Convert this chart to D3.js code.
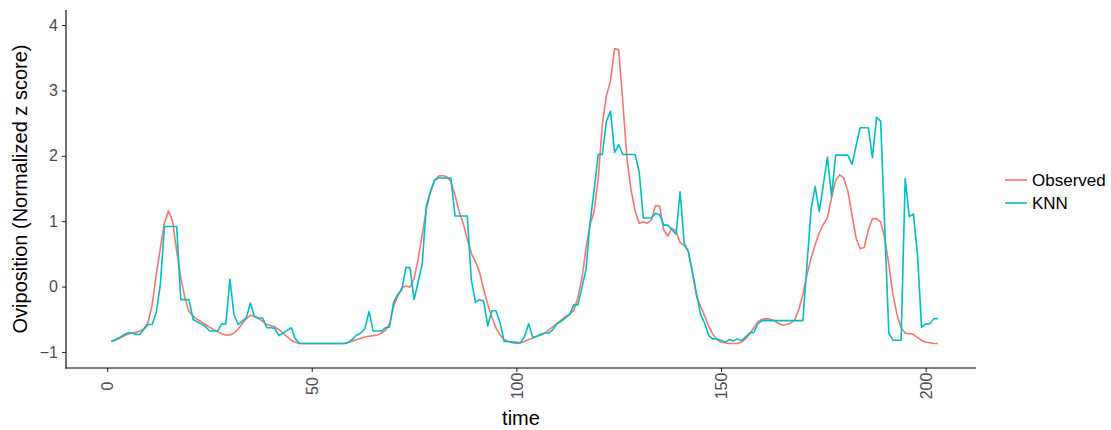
<!DOCTYPE html>
<html>
<head>
<meta charset="utf-8">
<script src="https://cdn.jsdelivr.net/npm/d3@7"></script>
<style>
  html, body { margin: 0; padding: 0; background: #fff; }
  svg { display: block; }
  text { font-family: "Liberation Sans", Arial, sans-serif; }
</style>
</head>
<body>
<svg id="chart" width="1111" height="430"></svg>
<script>
// ---- data ----
const seriesNames = ["Observed", "KNN"];
const seriesColors = ["#F8766D", "#00BFC4"];
const xTicks = [0, 50, 100, 150, 200];
const yTicks = [-1, 0, 1, 2, 3, 4];
const yTickLabels = ["\u22121", "0", "1", "2", "3", "4"];

const observed = [
 -0.84,-0.82,-0.79,-0.76,-0.73,-0.71,-0.70,-0.68,-0.64,-0.55,
 -0.28,0.18,0.59,0.97,1.16,1.00,0.54,0.13,-0.17,-0.38,
 -0.45,-0.50,-0.54,-0.58,-0.62,-0.66,-0.69,-0.72,-0.74,-0.74,
 -0.71,-0.65,-0.57,-0.49,-0.44,-0.45,-0.49,-0.53,-0.58,-0.60,
 -0.62,-0.66,-0.71,-0.77,-0.82,-0.85,-0.87,-0.87,-0.87,-0.87,
 -0.87,-0.87,-0.87,-0.87,-0.87,-0.87,-0.87,-0.87,-0.85,-0.83,
 -0.81,-0.79,-0.77,-0.76,-0.75,-0.74,-0.71,-0.67,-0.57,-0.30,
 -0.15,-0.02,0.01,-0.01,0.12,0.42,0.80,1.18,1.45,1.62,
 1.69,1.70,1.68,1.60,1.40,1.15,0.97,0.72,0.51,0.38,
 0.22,-0.04,-0.27,-0.47,-0.63,-0.74,-0.81,-0.84,-0.86,-0.87,
 -0.86,-0.84,-0.81,-0.79,-0.76,-0.74,-0.71,-0.66,-0.61,-0.56,
 -0.51,-0.46,-0.42,-0.37,-0.17,0.12,0.58,0.95,1.15,1.65,
 2.48,2.92,3.15,3.64,3.62,2.82,1.97,1.48,1.16,0.97,
 0.99,0.97,1.02,1.24,1.23,0.87,0.77,0.89,0.85,0.67,
 0.63,0.54,0.23,-0.15,-0.30,-0.45,-0.61,-0.73,-0.81,-0.85,
 -0.86,-0.87,-0.87,-0.87,-0.85,-0.80,-0.72,-0.63,-0.54,-0.50,
 -0.49,-0.50,-0.52,-0.56,-0.59,-0.58,-0.56,-0.51,-0.35,-0.12,
 0.18,0.44,0.64,0.82,0.95,1.05,1.36,1.62,1.71,1.66,
 1.46,1.10,0.74,0.58,0.60,0.87,1.04,1.04,0.99,0.74,
 0.34,-0.12,-0.43,-0.63,-0.71,-0.72,-0.73,-0.78,-0.82,-0.85,
 -0.86,-0.87,-0.87
];

const knn = [
 -0.84,-0.81,-0.78,-0.74,-0.71,-0.71,-0.73,-0.73,-0.65,-0.58,
 -0.58,-0.40,0.03,0.92,0.92,0.92,0.92,-0.20,-0.20,-0.20,
 -0.50,-0.54,-0.57,-0.61,-0.68,-0.68,-0.68,-0.57,-0.57,0.11,
 -0.43,-0.58,-0.53,-0.48,-0.25,-0.46,-0.48,-0.48,-0.63,-0.63,
 -0.64,-0.75,-0.71,-0.67,-0.63,-0.80,-0.87,-0.87,-0.87,-0.87,
 -0.87,-0.87,-0.87,-0.87,-0.87,-0.87,-0.87,-0.87,-0.85,-0.80,
 -0.74,-0.71,-0.64,-0.38,-0.68,-0.68,-0.68,-0.63,-0.62,-0.24,
 -0.12,-0.05,0.29,0.29,-0.20,0.07,0.35,1.23,1.45,1.63,
 1.66,1.66,1.66,1.66,1.08,1.08,1.08,1.08,0.10,-0.24,
 -0.20,-0.22,-0.60,-0.37,-0.37,-0.55,-0.84,-0.84,-0.85,-0.85,
 -0.86,-0.76,-0.57,-0.78,-0.76,-0.73,-0.71,-0.71,-0.65,-0.56,
 -0.53,-0.48,-0.43,-0.28,-0.28,-0.02,0.26,0.97,1.48,2.02,
 2.02,2.53,2.68,2.05,2.17,2.02,2.02,2.02,2.02,1.76,
 1.05,1.05,1.05,1.12,1.10,0.94,0.94,0.87,0.80,1.45,
 0.66,0.54,0.22,-0.10,-0.43,-0.56,-0.75,-0.80,-0.80,-0.82,
 -0.85,-0.81,-0.83,-0.80,-0.83,-0.77,-0.71,-0.70,-0.57,-0.52,
 -0.52,-0.52,-0.52,-0.52,-0.52,-0.52,-0.52,-0.52,-0.52,-0.52,
 0.33,1.18,1.53,1.15,1.56,1.98,1.38,2.01,2.01,2.01,
 2.01,1.87,2.15,2.43,2.43,2.43,1.97,2.59,2.53,0.90,
 -0.71,-0.82,-0.82,-0.82,1.65,1.07,1.11,0.50,-0.62,-0.57,
 -0.57,-0.49,-0.49
];

const time = observed.map((_, i) => i + 1);

// ---- layout ----
const svg = d3.select("#chart");
const panel = { left: 66, right: 976, top: 10, bottom: 368 };

const x = d3.scaleLinear().domain([-10.05, 212.3]).range([panel.left, panel.right]);
const y = d3.scaleLinear().domain([-1.245, 4.23]).range([panel.bottom, panel.top]);

const seriesData = [observed, knn];

const line = d3.line()
  .x((d, i) => x(time[i]))
  .y(d => y(d));

seriesData.forEach((vals, k) => {
  svg.append("path")
    .datum(vals)
    .attr("fill", "none")
    .attr("stroke", seriesColors[k])
    .attr("stroke-width", 1.6)
    .attr("stroke-linejoin", "round")
    .attr("d", line);
});

// axes
const yAxis = d3.axisLeft(y).tickValues(yTicks)
  .tickFormat((d, i) => yTickLabels[i]).tickSize(4).tickPadding(4);
const gy = svg.append("g").attr("transform", `translate(${panel.left},0)`).call(yAxis);
gy.select(".domain").remove();
gy.selectAll(".tick line").attr("stroke", "#333333").attr("stroke-width", 1.1);
gy.selectAll(".tick text").attr("fill", "#4D4D4D").style("font-size", "16px")
  .style("font-family", "'Liberation Sans', Arial, sans-serif");

const xAxis = d3.axisBottom(x).tickValues(xTicks).tickSize(4).tickPadding(4);
const gx = svg.append("g").attr("transform", `translate(0,${panel.bottom})`).call(xAxis);
gx.select(".domain").remove();
gx.selectAll(".tick line").attr("stroke", "#333333").attr("stroke-width", 1.1);
gx.selectAll(".tick text")
  .attr("fill", "#4D4D4D").style("font-size", "16px")
  .style("font-family", "'Liberation Sans', Arial, sans-serif")
  .attr("transform", "translate(0,18) rotate(-90)")
  .attr("text-anchor", "middle")
  .attr("dy", "0.35em")
  .attr("y", 0).attr("x", 0);

// axis lines
svg.append("line").attr("x1", panel.left).attr("x2", panel.left)
  .attr("y1", panel.top).attr("y2", panel.bottom + 0.5)
  .attr("stroke", "#000").attr("stroke-width", 1.1);
svg.append("line").attr("x1", panel.left - 0.5).attr("x2", panel.right)
  .attr("y1", panel.bottom).attr("y2", panel.bottom)
  .attr("stroke", "#000").attr("stroke-width", 1.1);

// titles
svg.append("text").attr("x", (panel.left + panel.right) / 2).attr("y", 425)
  .attr("text-anchor", "middle").style("font-size", "20px").attr("fill", "#000")
  .text("time");
svg.append("text")
  .attr("transform", `translate(27,${(panel.top + panel.bottom) / 2}) rotate(-90)`)
  .attr("text-anchor", "middle").style("font-size", "20px").attr("fill", "#000")
  .text("Oviposition (Normalized z score)");

// legend
const legend = svg.append("g");
seriesNames.forEach((name, k) => {
  const ly = 180 + k * 23;
  legend.append("line").attr("x1", 1005).attr("x2", 1027)
    .attr("y1", ly).attr("y2", ly)
    .attr("stroke", seriesColors[k]).attr("stroke-width", 1.6);
  legend.append("text").attr("x", 1032).attr("y", ly).attr("dy", "0.35em")
    .style("font-size", "17px").attr("fill", "#000").text(name);
});
</script>
</body>
</html>
